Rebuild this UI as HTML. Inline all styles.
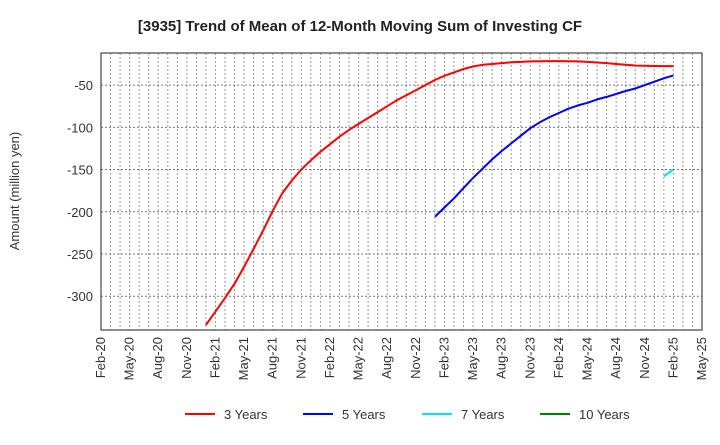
<!DOCTYPE html>
<html><head><meta charset="utf-8"><style>
body{margin:0;background:#fff;}
svg{font-family:"Liberation Sans",sans-serif;}
</style></head><body>
<svg id="chart" width="720" height="440" xmlns="http://www.w3.org/2000/svg">
<text x="360" y="31" text-anchor="middle" font-size="15" font-weight="bold" fill="#222">[3935]  Trend of Mean of 12-Month Moving Sum of Investing CF</text>
<text transform="translate(19,191) rotate(-90)" text-anchor="middle" font-size="13" fill="#333">Amount (million yen)</text>
<g id="grid"></g>
<g id="series"></g>
<rect x="101" y="53" width="601" height="277" fill="none" stroke="#444" stroke-width="1.2"/>
<g id="legend"></g>
</svg>
<script>
const xLabels=["Feb-20","May-20","Aug-20","Nov-20","Feb-21","May-21","Aug-21","Nov-21","Feb-22","May-22","Aug-22","Nov-22","Feb-23","May-23","Aug-23","Nov-23","Feb-24","May-24","Aug-24","Nov-24","Feb-25","May-25"];
const yTicks=[-50,-100,-150,-200,-250,-300];
const seriesNames=["3 Years","5 Years","7 Years","10 Years"];
const seriesColors=["#ff0000","#0000ff","#00e5e5","#008000"];
// month offsets from Feb-20
const start3=11;
const vals3=[-334,-318,-302,-285,-265,-244,-222,-199,-178,-163,-150,-139,-129,-120,-111,-103,-96,-89,-82,-75,-68,-62,-56,-50,-44,-39,-35,-31,-28,-26,-25,-24,-23,-22.5,-22,-21.7,-21.6,-21.6,-21.8,-22,-22.5,-23.2,-24,-25,-26,-26.8,-27.2,-27.4,-27.5,-27.5];
const start5=35;
const vals5=[-206,-195,-184,-172,-160,-149,-138,-128,-119,-110,-101,-94,-88,-83,-78,-74,-71,-67,-64,-60.5,-57,-54,-50,-46,-42,-38.5];
const start7=59;
const vals7=[-158,-150];
const start10=0;
const vals10=[];

const L=101,R=702,T=53,B=330,nMonths=63,yMax=-12,yMin=-340;
const xs=m=>L+(R-L)*m/nMonths;
const ys=v=>T+(B-T)*(yMax-v)/(yMax-yMin);
const NS="http://www.w3.org/2000/svg";
const svg=document.getElementById('chart');
const grid=document.getElementById('grid');
function mk(tag,attrs,parent){const e=document.createElementNS(NS,tag);for(const k in attrs)e.setAttribute(k,attrs[k]);parent.appendChild(e);return e;}
for(let m=1;m<nMonths;m++){
  const l=mk('line',{x1:xs(m),x2:xs(m),y1:T,y2:B,stroke:'#999','stroke-dasharray':'2,2','stroke-width':1},grid);
  
  
}
yTicks.forEach(v=>{
  const l=mk('line',{x1:L,x2:R,y1:ys(v),y2:ys(v),stroke:'#777','stroke-dasharray':'2,2','stroke-width':1},grid);
  
  
  const t=mk('text',{x:L-8,y:ys(v)+5,'text-anchor':'end','font-size':13,fill:'#333'},grid);
  
  
  t.textContent=v;
});
xLabels.forEach((s,i)=>{
  const x=xs(i*3);
  const t=mk('text',{transform:`translate(${x+4},337) rotate(-90)`,'text-anchor':'end','font-size':13,fill:'#333'},grid);
  
  
  t.textContent=s;
});
const ser=document.getElementById('series');
[[start3,vals3],[start5,vals5],[start7,vals7],[start10,vals10]].forEach(([s,v],i)=>{
  if(!v.length)return;
  const pts=v.map((d,j)=>xs(s+j).toFixed(1)+','+ys(d).toFixed(1)).join(' ');
  const p=mk('polyline',{points:pts,fill:'none',stroke:seriesColors[i],'stroke-width':2,'stroke-linejoin':'round'},ser);
  
  
});
const leg=document.getElementById('legend');
const lx=[185,303,422,540];
seriesNames.forEach((n,i)=>{
  const g=mk('g',{},leg);
  
  
  mk('line',{x1:lx[i],x2:lx[i]+30,y1:414,y2:414,stroke:seriesColors[i],'stroke-width':2},g);
  const t=mk('text',{x:lx[i]+39,y:419,'font-size':13,fill:'#333'},g);
  t.textContent=n;
});
</script>
</body></html>
